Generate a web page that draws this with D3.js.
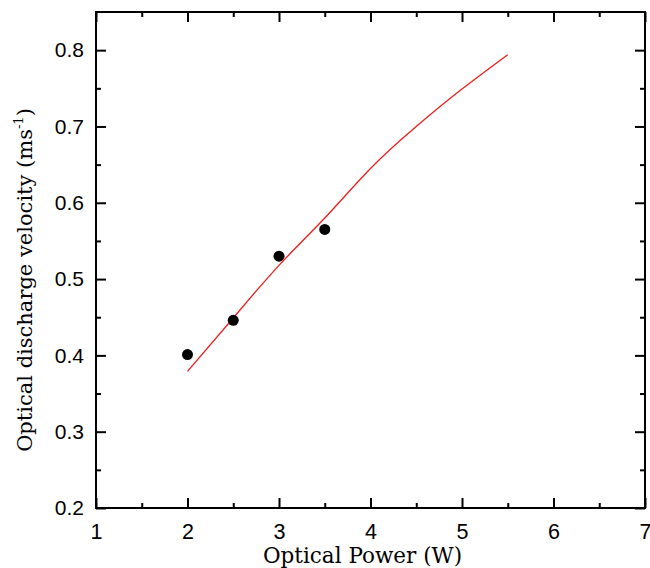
<!DOCTYPE html>
<html>
<head>
<meta charset="utf-8">
<script src="https://cdn.jsdelivr.net/npm/d3@7"></script>
<style>
 body { margin: 0; background: #fff; }
</style>
</head>
<body>
<div id="chart"></div>
<script>
// measured points
const powerPts = [2, 2.5, 3, 3.5];
const velocityPts = [0.401, 0.446, 0.53, 0.565];
// model curve (red)
const powerFit = [2, 2.5, 3, 3.5, 4, 4.5, 5, 5.5];
const velocityFit = [0.379, 0.449, 0.518, 0.580, 0.645, 0.700, 0.749, 0.794];
const xTicks = [1, 2, 3, 4, 5, 6, 7];
const yTicks = [0.2, 0.3, 0.4, 0.5, 0.6, 0.7, 0.8];

const width = 650, height = 568;
const marginLeft = 96, marginRight = 5, marginTop = 12, marginBottom = 60;

const x = d3.scaleLinear().domain([1, 7]).range([marginLeft, width - marginRight]);
const y = d3.scaleLinear().domain([0.2, 0.85]).range([height - marginBottom, marginTop]);

const svg = d3.select("#chart").append("svg")
  .attr("width", width).attr("height", height);

const xMinor = d3.range(1.5, 7, 1);
const yMinor = d3.range(0.25, 0.85, 0.1);

// frame
svg.append("rect")
  .attr("x", x(1)).attr("y", y(0.85))
  .attr("width", x(7) - x(1)).attr("height", y(0.2) - y(0.85))
  .attr("fill", "none").attr("stroke", "#000").attr("stroke-width", 2);

// bottom axis
svg.append("g")
  .attr("transform", `translate(0,${y(0.2)})`)
  .call(d3.axisBottom(x).tickValues(xTicks).tickFormat(d3.format("d")).tickSize(-10).tickPadding(16).tickSizeOuter(0))
  .call(g => g.select(".domain").remove())
  .call(g => g.selectAll(".tick line").attr("stroke-width", 2))
  .call(g => g.selectAll(".tick text").attr("font-family", "Liberation Sans, Arial, sans-serif").attr("font-size", 21.5).attr("fill", "#000"));
svg.append("g")
  .attr("transform", `translate(0,${y(0.2)})`)
  .call(d3.axisBottom(x).tickValues(xMinor).tickFormat("").tickSize(-5).tickSizeOuter(0))
  .call(g => g.select(".domain").remove())
  .call(g => g.selectAll(".tick line").attr("stroke-width", 2));

// top axis (ticks only)
svg.append("g")
  .attr("transform", `translate(0,${y(0.85)})`)
  .call(d3.axisTop(x).tickValues(xTicks).tickFormat("").tickSize(-10).tickSizeOuter(0))
  .call(g => g.select(".domain").remove())
  .call(g => g.selectAll(".tick line").attr("stroke-width", 2));
svg.append("g")
  .attr("transform", `translate(0,${y(0.85)})`)
  .call(d3.axisTop(x).tickValues(xMinor).tickFormat("").tickSize(-5).tickSizeOuter(0))
  .call(g => g.select(".domain").remove())
  .call(g => g.selectAll(".tick line").attr("stroke-width", 2));

// left axis
svg.append("g")
  .attr("transform", `translate(${x(1)},0)`)
  .call(d3.axisLeft(y).tickValues(yTicks).tickFormat(d3.format(".1f")).tickSize(-10).tickPadding(12).tickSizeOuter(0))
  .call(g => g.select(".domain").remove())
  .call(g => g.selectAll(".tick line").attr("stroke-width", 2))
  .call(g => g.selectAll(".tick text").attr("font-family", "Liberation Sans, Arial, sans-serif").attr("font-size", 21).attr("fill", "#000"));
svg.append("g")
  .attr("transform", `translate(${x(1)},0)`)
  .call(d3.axisLeft(y).tickValues(yMinor).tickFormat("").tickSize(-5).tickSizeOuter(0))
  .call(g => g.select(".domain").remove())
  .call(g => g.selectAll(".tick line").attr("stroke-width", 2));

// right axis (ticks only)
svg.append("g")
  .attr("transform", `translate(${x(7)},0)`)
  .call(d3.axisRight(y).tickValues(yTicks).tickFormat("").tickSize(-10).tickSizeOuter(0))
  .call(g => g.select(".domain").remove())
  .call(g => g.selectAll(".tick line").attr("stroke-width", 2));
svg.append("g")
  .attr("transform", `translate(${x(7)},0)`)
  .call(d3.axisRight(y).tickValues(yMinor).tickFormat("").tickSize(-5).tickSizeOuter(0))
  .call(g => g.select(".domain").remove())
  .call(g => g.selectAll(".tick line").attr("stroke-width", 2));

// red curve
const fit = powerFit.map((p, i) => [p, velocityFit[i]]);
svg.append("path")
  .datum(fit)
  .attr("fill", "none")
  .attr("stroke", "#ee1c1c")
  .attr("stroke-width", 1.3)
  .attr("d", d3.line().x(d => x(d[0])).y(d => y(d[1])).curve(d3.curveNatural));

// data points
svg.selectAll("circle.pt")
  .data(powerPts.map((p, i) => [p, velocityPts[i]]))
  .enter().append("circle")
  .attr("class", "pt")
  .attr("cx", d => x(d[0])).attr("cy", d => y(d[1]))
  .attr("r", 5.5).attr("fill", "#000");

// axis titles
svg.append("text")
  .attr("x", (x(1) + x(7)) / 2 - 8).attr("y", 563)
  .attr("text-anchor", "middle")
  .attr("font-family", "DejaVu Serif, serif").attr("font-size", 21.5)
  .attr("fill", "#000")
  .text("Optical Power (W)");

const yt = svg.append("text")
  .attr("transform", `translate(32,280) rotate(-90)`)
  .attr("text-anchor", "middle")
  .attr("font-family", "DejaVu Serif, serif").attr("font-size", 21)
  .attr("fill", "#000");
yt.append("tspan").text("Optical discharge velocity (ms");
yt.append("tspan").attr("dy", -9).attr("font-size", 13).text("-1");
yt.append("tspan").attr("dy", 9).text(")");
</script>
</body>
</html>
